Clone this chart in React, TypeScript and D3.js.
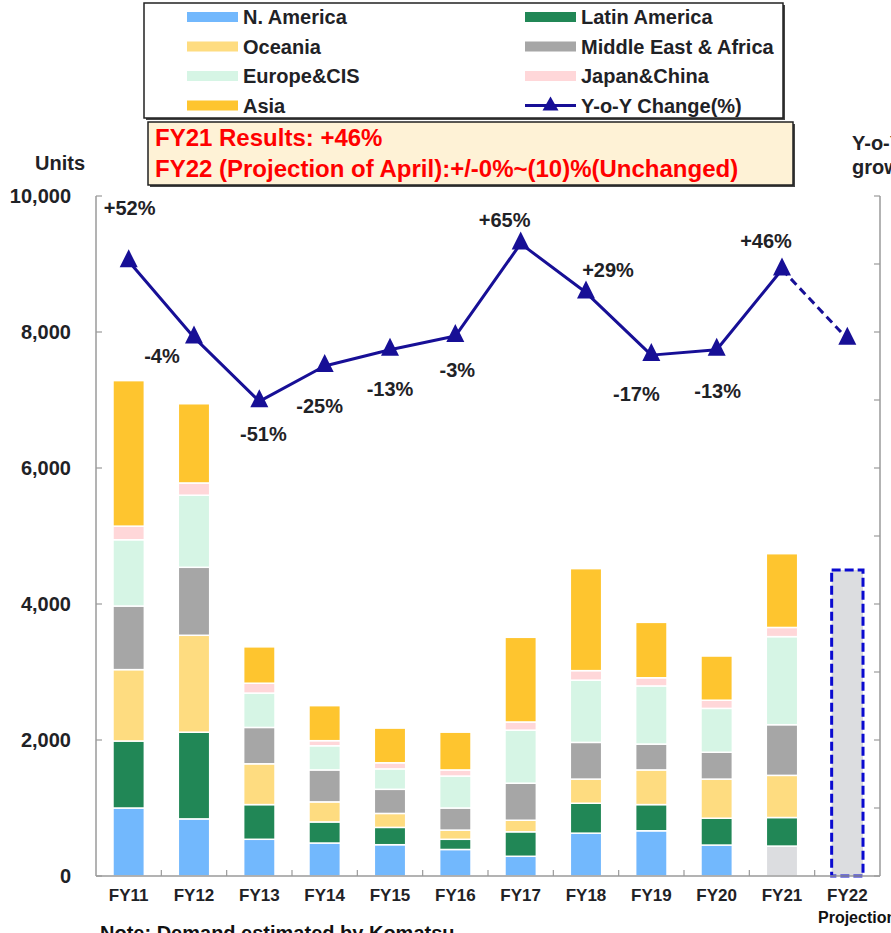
import React, { useEffect, useRef } from 'react';
import * as d3 from 'd3';

// fiscal years, FY22 is the projection bar
const categories = ['FY11', 'FY12', 'FY13', 'FY14', 'FY15', 'FY16', 'FY17', 'FY18', 'FY19', 'FY20', 'FY21', 'FY22'];

// demand in units by region, FY11..FY21
const nAmerica = [1000, 840, 540, 485, 460, 390, 290, 630, 665, 455, 440];
const latinAmerica = [985, 1275, 510, 310, 255, 150, 360, 440, 385, 395, 420];
const oceania = [1050, 1425, 600, 295, 205, 135, 170, 355, 510, 575, 620];
const middleEastAfrica = [935, 1000, 535, 470, 355, 325, 545, 540, 380, 395, 745];
const europeCIS = [975, 1060, 505, 355, 300, 470, 780, 915, 855, 645, 1295];
const japanChina = [200, 180, 145, 75, 90, 90, 120, 140, 120, 120, 135];
const asia = [2140, 1165, 535, 515, 510, 555, 1245, 1500, 815, 650, 1085];
const projectionTotal = 4500;

// year over year change (%), FY22 is the midpoint of the projection
const yoyChange = [52, -4, -51, -25, -13, -3, 65, 29, -17, -13, 46, -5];
const yoyLabels = ['+52%', '-4%', '-51%', '-25%', '-13%', '-3%', '+65%', '+29%', '-17%', '-13%', '+46%', ''];

const leftTicks = [0, 2000, 4000, 6000, 8000, 10000];
const rightTicks = [100, 50, 0, -50, -100, -150, -200, -250, -300, -350, -400];

const regions = [
  { key: 'na', name: 'N. America', values: nAmerica, color: '#72b8fd' },
  { key: 'la', name: 'Latin America', values: latinAmerica, color: '#218756' },
  { key: 'oc', name: 'Oceania', values: oceania, color: '#fedc80' },
  { key: 'mea', name: 'Middle East & Africa', values: middleEastAfrica, color: '#a6a6a6' },
  { key: 'eu', name: 'Europe&CIS', values: europeCIS, color: '#d6f5e5' },
  { key: 'jc', name: 'Japan&China', values: japanChina, color: '#ffd7d9' },
  { key: 'as', name: 'Asia', values: asia, color: '#fec52f' },
];

// label offsets from each point [dx, dy to baseline]
const labelOffsets = [[1, -46], [-32, 26], [4, 40], [-5, 47], [0, 46], [2, 41], [-16, -17], [22, -16], [-15, 46], [1, 48], [-16, -21], [0, 0]];

const FONT = "'Liberation Sans', Arial, sans-serif";
const TEXT = '#1f2226';
const LINE = '#170f96';

function App() {
  const ref = useRef<SVGSVGElement | null>(null);

  useEffect(() => {
    const svg = d3.select(ref.current);
    svg.selectAll('*').remove();

    const left = 96, right = 880, top = 196, bottom = 876;

    const x = d3.scaleBand().domain(categories).range([left, right]).padding(0);
    const y = d3.scaleLinear().domain([0, 10000]).range([bottom, top]);
    const y2 = d3.scaleLinear().domain([-400, 100]).range([bottom, top]);
    const barW = x.bandwidth() * 0.48;

    // ---- legend box
    const lg = svg.append('g');
    lg.append('rect').attr('x', 146).attr('y', 5).attr('width', 639).attr('height', 115).attr('fill', '#444');
    lg.append('rect').attr('x', 144).attr('y', 3).attr('width', 639).attr('height', 115)
      .attr('fill', '#fff').attr('stroke', '#222').attr('stroke-width', 1.5);

    const colX = [187, 525];
    regions.forEach((r, i) => {
      const col = i % 2, row = Math.floor(i / 2);
      const cy = 17 + row * 29.5;
      lg.append('rect').attr('x', colX[col]).attr('y', cy - 5).attr('width', 51).attr('height', 10).attr('fill', r.color);
      lg.append('text').attr('x', colX[col] + 56).attr('y', cy + 7)
        .attr('font-family', FONT).attr('font-weight', 'bold').attr('font-size', 20).attr('fill', TEXT)
        .text(r.name);
    });
    // y-o-y legend entry
    {
      const cy = 17 + 3 * 29.5;
      lg.append('line').attr('x1', colX[1]).attr('x2', colX[1] + 51).attr('y1', cy).attr('y2', cy)
        .attr('stroke', LINE).attr('stroke-width', 3);
      lg.append('path').attr('transform', `translate(${colX[1] + 25.5},${cy})`)
        .attr('d', 'M0,-9L8,5L-8,5Z').attr('fill', LINE);
      lg.append('text').attr('x', colX[1] + 56).attr('y', cy + 7)
        .attr('font-family', FONT).attr('font-weight', 'bold').attr('font-size', 20).attr('fill', TEXT)
        .text('Y-o-Y Change(%)');
    }

    // ---- red note box
    const nb = svg.append('g');
    nb.append('rect').attr('x', 150).attr('y', 124).attr('width', 645).attr('height', 63).attr('fill', '#444');
    nb.append('rect').attr('x', 148).attr('y', 122).attr('width', 645).attr('height', 63)
      .attr('fill', '#fef2d6').attr('stroke', '#222').attr('stroke-width', 1.5);
    nb.append('text').attr('x', 155).attr('y', 146)
      .attr('font-family', FONT).attr('font-weight', 'bold').attr('font-size', 24).attr('fill', '#ff0000')
      .text('FY21 Results: +46%');
    nb.append('text').attr('x', 155).attr('y', 177)
      .attr('font-family', FONT).attr('font-weight', 'bold').attr('font-size', 24).attr('fill', '#ff0000')
      .text('FY22 (Projection of April):+/-0%~(10)%(Unchanged)');

    // ---- axis titles
    svg.append('text').attr('x', 35).attr('y', 170)
      .attr('font-family', FONT).attr('font-weight', 'bold').attr('font-size', 20).attr('fill', TEXT).text('Units');
    svg.append('text').attr('x', 852).attr('y', 150)
      .attr('font-family', FONT).attr('font-weight', 'bold').attr('font-size', 20).attr('fill', TEXT).text('Y-o-Y');
    svg.append('text').attr('x', 852).attr('y', 174)
      .attr('font-family', FONT).attr('font-weight', 'bold').attr('font-size', 20).attr('fill', TEXT).text('growth rate');

    // ---- stacked bars
    const table = categories.slice(0, 11).map((c, i) => {
      const row: any = { cat: c };
      regions.forEach(r => { row[r.key] = r.values[i]; });
      return row;
    });
    const stack = d3.stack().keys(regions.map(r => r.key));
    const series = stack(table);

    series.forEach((s, si) => {
      svg.append('g').selectAll('rect').data(s).enter().append('rect')
        .attr('x', (d: any) => (x(d.data.cat) as number) + (x.bandwidth() - barW) / 2)
        .attr('y', (d: any) => y(d[1]))
        .attr('width', barW)
        .attr('height', (d: any) => y(d[0]) - y(d[1]))
        // FY21 N. America is shown in grey in the source
        .attr('fill', (d: any) => (si === 0 && d.data.cat === 'FY21') ? '#dcdde0' : regions[si].color)
        .attr('stroke', '#fff').attr('stroke-width', 1.5);
    });

    // projection bar
    svg.append('rect')
      .attr('x', (x('FY22') as number) + (x.bandwidth() - barW) / 2)
      .attr('y', y(projectionTotal))
      .attr('width', barW)
      .attr('height', y(0) - y(projectionTotal))
      .attr('fill', '#dcdde0').attr('stroke', '#0a0ad0').attr('stroke-width', 3)
      .attr('stroke-dasharray', '9,4');

    // ---- axes
    const axisColor = '#9a9a9a';
    svg.append('line').attr('x1', left).attr('x2', left).attr('y1', top).attr('y2', bottom).attr('stroke', axisColor).attr('stroke-width', 1.5);
    svg.append('line').attr('x1', right).attr('x2', right).attr('y1', top).attr('y2', bottom).attr('stroke', axisColor).attr('stroke-width', 1.5);
    svg.append('line').attr('x1', left).attr('x2', right).attr('y1', bottom).attr('y2', bottom).attr('stroke', axisColor).attr('stroke-width', 1.5);

    leftTicks.forEach(t => {
      svg.append('line').attr('x1', left).attr('x2', left + 6).attr('y1', y(t)).attr('y2', y(t)).attr('stroke', axisColor).attr('stroke-width', 1.2);
      svg.append('text').attr('x', 71).attr('y', y(t) + 7).attr('text-anchor', 'end')
        .attr('font-family', FONT).attr('font-weight', 'bold').attr('font-size', 20).attr('fill', TEXT)
        .text(d3.format(',')(t));
    });
    rightTicks.forEach(t => {
      svg.append('line').attr('x1', right - 6).attr('x2', right).attr('y1', y2(t)).attr('y2', y2(t)).attr('stroke', axisColor).attr('stroke-width', 1.2);
    });
    categories.forEach((c, i) => {
      if (i > 0) {
        const bx = x(c) as number;
        svg.append('line').attr('x1', bx).attr('x2', bx).attr('y1', bottom - 6).attr('y2', bottom).attr('stroke', axisColor).attr('stroke-width', 1.2);
      }
      svg.append('text').attr('x', (x(c) as number) + x.bandwidth() / 2).attr('y', 901).attr('text-anchor', 'middle')
        .attr('font-family', FONT).attr('font-weight', 'bold').attr('font-size', 17).attr('fill', TEXT).text(c);
    });
    svg.append('text').attr('x', 818).attr('y', 923)
      .attr('font-family', FONT).attr('font-weight', 'bold').attr('font-size', 16).attr('fill', '#111').text('Projection');

    // ---- y-o-y line
    const pts = categories.map((c, i) => [(x(c) as number) + x.bandwidth() / 2, y2(yoyChange[i])] as [number, number]);
    const line = d3.line();
    svg.append('path').attr('d', line(pts.slice(0, 11)) as string)
      .attr('fill', 'none').attr('stroke', LINE).attr('stroke-width', 3).attr('stroke-linejoin', 'round');
    svg.append('path').attr('d', line(pts.slice(10)) as string)
      .attr('fill', 'none').attr('stroke', LINE).attr('stroke-width', 3).attr('stroke-dasharray', '8,5');

    svg.append('g').selectAll('path').data(pts).enter().append('path')
      .attr('transform', d => `translate(${d[0]},${d[1]})`)
      .attr('d', 'M0,-12L9,6L-9,6Z').attr('fill', LINE);

    svg.append('g').selectAll('text').data(pts).enter().append('text')
      .attr('x', (d, i) => d[0] + labelOffsets[i][0])
      .attr('y', (d, i) => d[1] + labelOffsets[i][1])
      .attr('text-anchor', 'middle')
      .attr('font-family', FONT).attr('font-weight', 'bold').attr('font-size', 20).attr('fill', TEXT)
      .text((d, i) => yoyLabels[i]);

    // ---- footnote (cut off at the bottom in the source)
    svg.append('text').attr('x', 100).attr('y', 940)
      .attr('font-family', FONT).attr('font-weight', 'bold').attr('font-size', 20).attr('fill', '#111')
      .text('Note: Demand estimated by Komatsu');
  }, []);

  return (
    <div>
      <svg ref={ref} width={891} height={933} style={{ position: 'absolute', left: 0, top: 0, background: '#fff' }}></svg>
    </div>
  );
}

export default App;
